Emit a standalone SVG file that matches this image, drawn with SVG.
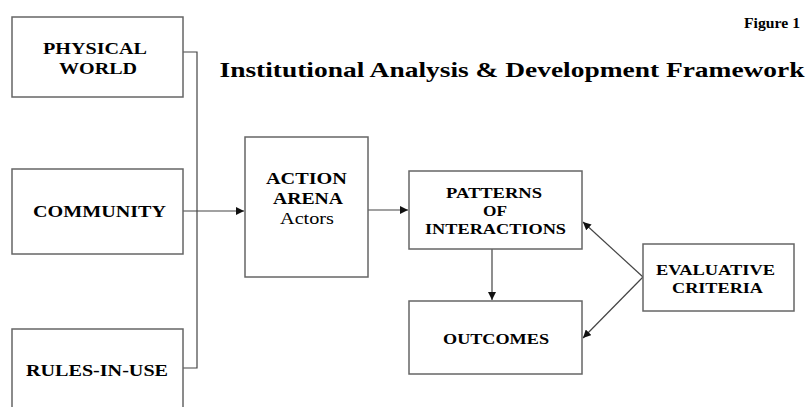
<svg xmlns="http://www.w3.org/2000/svg" width="810" height="407" viewBox="0 0 810 407">
<defs>
<style>
.box{fill:#fff;stroke:#666;stroke-width:1.5}
.t{font-family:"Liberation Serif","Times New Roman",serif;font-weight:bold;fill:#000;text-anchor:middle}
.r{font-family:"Liberation Serif","Times New Roman",serif;fill:#000;text-anchor:middle}
.ln{fill:none;stroke:#444;stroke-width:1.2}
</style>
<marker id="ah" viewBox="0 0 10 10" refX="10" refY="5" markerWidth="8" markerHeight="8" markerUnits="userSpaceOnUse" orient="auto">
<path d="M0,0 L10,5 L0,10 z" fill="#111"/>
</marker>
</defs>
<rect width="810" height="407" fill="#fff"/>
<text class="t" x="772" y="28" font-size="15" textLength="56" lengthAdjust="spacingAndGlyphs">Figure 1</text>
<text class="t" x="512" y="77" font-size="22" textLength="585" lengthAdjust="spacingAndGlyphs">Institutional Analysis &amp; Development Framework</text>
<g id="connectors">
<path class="ln" d="M183,52 H197 V368 H183"/>
<path class="ln" d="M183,211 H244" marker-end="url(#ah)"/>
<path class="ln" d="M368,210 H408" marker-end="url(#ah)"/>
<path class="ln" d="M492,249 V300" marker-end="url(#ah)"/>
<path class="ln" d="M643,277 L583,222" marker-end="url(#ah)"/>
<path class="ln" d="M643,277 L583,338" marker-end="url(#ah)"/>
</g>
<g id="physical-world">
<rect class="box" x="12" y="17" width="171" height="80"/>
<text class="t" x="95" y="54" font-size="16.5" textLength="104" lengthAdjust="spacingAndGlyphs">PHYSICAL</text>
<text class="t" x="98" y="74" font-size="16.5" textLength="78" lengthAdjust="spacingAndGlyphs">WORLD</text>
</g>
<g id="community">
<rect class="box" x="12" y="169" width="171" height="85"/>
<text class="t" x="99.5" y="217" font-size="16.5" textLength="133" lengthAdjust="spacingAndGlyphs">COMMUNITY</text>
</g>
<g id="rules-in-use">
<rect class="box" x="12" y="329" width="171" height="90"/>
<text class="t" x="97" y="376" font-size="16.5" textLength="142" lengthAdjust="spacingAndGlyphs">RULES-IN-USE</text>
</g>
<g id="action-arena">
<rect class="box" x="245" y="137" width="123" height="140"/>
<text class="t" x="306.5" y="184" font-size="17" textLength="81" lengthAdjust="spacingAndGlyphs">ACTION</text>
<text class="t" x="308" y="204" font-size="17" textLength="70" lengthAdjust="spacingAndGlyphs">ARENA</text>
<text class="r" x="307" y="224" font-size="17" textLength="54" lengthAdjust="spacingAndGlyphs">Actors</text>
</g>
<g id="patterns">
<rect class="box" x="409" y="171" width="173" height="78"/>
<text class="t" x="494" y="198" font-size="15.5" textLength="96" lengthAdjust="spacingAndGlyphs">PATTERNS</text>
<text class="t" x="495" y="216" font-size="15.5" textLength="24" lengthAdjust="spacingAndGlyphs">OF</text>
<text class="t" x="495.5" y="234" font-size="15.5" textLength="141" lengthAdjust="spacingAndGlyphs">INTERACTIONS</text>
</g>
<g id="outcomes">
<rect class="box" x="409" y="301" width="173" height="73"/>
<text class="t" x="496" y="344" font-size="15.5" textLength="106" lengthAdjust="spacingAndGlyphs">OUTCOMES</text>
</g>
<g id="evaluative-criteria">
<rect class="box" x="643" y="244" width="151" height="67"/>
<text class="t" x="715.5" y="275" font-size="14.5" textLength="119" lengthAdjust="spacingAndGlyphs">EVALUATIVE</text>
<text class="t" x="717.5" y="293" font-size="14.5" textLength="91" lengthAdjust="spacingAndGlyphs">CRITERIA</text>
</g>
</svg>
